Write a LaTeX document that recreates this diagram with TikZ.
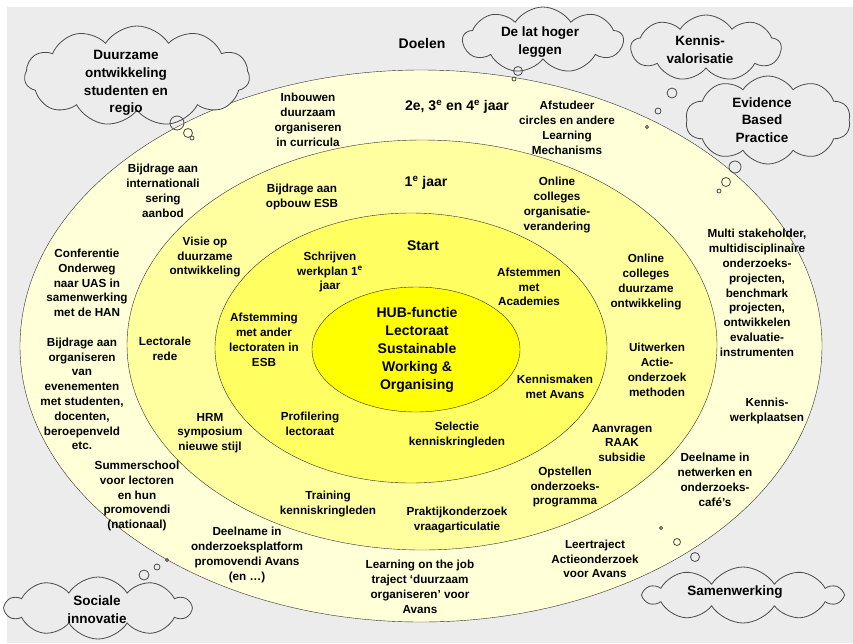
\documentclass[tikz,border=0pt]{standalone}
\usepackage{fontspec}
\setmainfont{Liberation Sans}
\usetikzlibrary{shapes.symbols}
\definecolor{achtergrond}{HTML}{ECECEC}
\definecolor{ring1}{HTML}{FFFFD8}
\definecolor{ring2}{HTML}{FFFFA0}
\definecolor{ring3}{HTML}{FFFF62}
\definecolor{kern}{HTML}{FFFF00}
\definecolor{lijn}{HTML}{303030}
\definecolor{wolklijn}{HTML}{4A4A4A}
\begin{document}
\begin{tikzpicture}[x=1pt,y=-1pt,
    ring/.style={font=\fontsize{11.7}{14.8}\selectfont\bfseries,align=center,inner sep=0pt},
    kop/.style={font=\fontsize{14}{17}\selectfont\bfseries,inner sep=0pt},
    hub/.style={font=\fontsize{14}{18}\selectfont\bfseries,align=center,inner sep=0pt},
    wolk/.style={cloud,cloud puffs=11,cloud puff arc=115,cloud ignores aspect,
      draw=wolklijn,fill=achtergrond,line width=0.8pt,inner sep=0pt},
    wolktekst/.style={font=\fontsize{13.5}{17.8}\selectfont\bfseries,align=center,inner sep=0pt},
    bel/.style={draw=wolklijn,line width=0.8pt}]
  \useasboundingbox (0,0) rectangle (853,643);
  \fill[white] (0,0) rectangle (853,643);
  \fill[achtergrond] (7,7) rectangle (853,643);
  \draw[lijn,fill=ring1] (421,346) ellipse [x radius=401, y radius=276];
  \draw[lijn,fill=ring2] (422,345) ellipse [x radius=295, y radius=205];
  \draw[lijn,fill=ring3] (411,348) ellipse [x radius=196, y radius=135];
  \draw[lijn,fill=kern] (416,349.5) ellipse [x radius=104, y radius=62.5];
  \draw (417,350) node[hub] (hubfunctie) {HUB-functie\\Lectoraat\\Sustainable\\Working \&\\Organising};
  \draw (422,43) node[kop] (doelen) {Doelen};
  \draw (457,107) node[kop] (jaar234) {2e, 3\textsuperscript{e} en 4\textsuperscript{e} jaar};
  \draw (426,183) node[kop] (jaar1) {1\textsuperscript{e} jaar};
  \draw (423,246) node[kop] (start) {Start};
  \draw (308,120) node[ring] (inbouwen) {Inbouwen\\duurzaam\\organiseren\\in curricula};
  \draw (567,128) node[ring] (afstudeer) {Afstudeer\\circles en andere\\Learning\\Mechanisms};
  \draw (163,191) node[ring] (internationaal) {Bijdrage aan\\internationali\\sering\\aanbod};
  \draw (87,283) node[ring] (conferentie) {Conferentie\\Onderweg\\naar UAS in\\samenwerking\\met de HAN};
  \draw (82,394) node[ring] (evenementen) {Bijdrage aan\\organiseren\\van\\evenementen\\met studenten,\\docenten,\\beroepenveld\\etc.};
  \draw (137,496) node[ring] (summerschool) {Summerschool\\voor lectoren\\en hun\\promovendi\\(nationaal)};
  \draw (247,555) node[ring] (platform) {Deelname in\\onderzoeksplatform\\promovendi Avans\\(en …)};
  \draw (420,587) node[ring] (learningjob) {Learning on the job\\traject ‘duurzaam\\organiseren’ voor\\Avans};
  \draw (595,559) node[ring] (leertraject) {Leertraject\\Actieonderzoek\\voor Avans};
  \draw (715,480) node[ring] (netwerken) {Deelname in\\netwerken en\\onderzoeks-\\café’s};
  \draw (767,411) node[ring] (werkplaatsen) {Kennis-\\werkplaatsen};
  \draw (757,293) node[ring] (stakeholder) {Multi stakeholder,\\multidisciplinaire\\onderzoeks-\\projecten,\\benchmark\\projecten,\\ontwikkelen\\evaluatie-\\instrumenten};
  \draw (302,197) node[ring] (opbouw) {Bijdrage aan\\opbouw ESB};
  \draw (557,205) node[ring] (orgverandering) {Online\\colleges\\organisatie-\\verandering};
  \draw (205,257) node[ring] (visie) {Visie op\\duurzame\\ontwikkeling};
  \draw (646,282) node[ring] (collegesdo) {Online\\colleges\\duurzame\\ontwikkeling};
  \draw (165,349) node[ring] (rede) {Lectorale\\rede};
  \draw (657,370) node[ring] (uitwerken) {Uitwerken\\Actie-\\onderzoek\\methoden};
  \draw (210,433) node[ring] (hrm) {HRM\\symposium\\nieuwe stijl};
  \draw (622,443) node[ring] (raak) {Aanvragen\\RAAK\\subsidie};
  \draw (328,504) node[ring] (training) {Training\\kenniskringleden};
  \draw (565,487) node[ring] (opstellen) {Opstellen\\onderzoeks-\\programma};
  \draw (457,520) node[ring] (praktijk) {Praktijkonderzoek\\vraagarticulatie};
  \draw (330,272) node[ring] (werkplan) {Schrijven\\werkplan 1\textsuperscript{e}\\jaar};
  \draw (529,287) node[ring] (academies) {Afstemmen\\met\\Academies};
  \draw (264,340) node[ring] (lectoraten) {Afstemming\\met ander\\lectoraten in\\ESB};
  \draw (555,387) node[ring] (kennismaken) {Kennismaken\\met Avans};
  \draw (310,424) node[ring] (profilering) {Profilering\\lectoraat};
  \draw (457,435) node[ring] (selectie) {Selectie\\kenniskringleden};
  \node[wolk,minimum width=225,minimum height=100] (wduurzaam) at (137,76) {};
  \node[wolk,cloud puffs=9,minimum width=160,minimum height=66] (wlat) at (543,40) {};
  \node[wolk,cloud puffs=9,minimum width=150,minimum height=66] (wvalorisatie) at (706,48) {};
  \node[wolk,cloud puffs=10,minimum width=165,minimum height=88] (wevidence) at (768,120) {};
  \node[wolk,cloud puffs=10,minimum width=185,minimum height=62] (wsociaal) at (98,608) {};
  \node[wolk,cloud puffs=10,minimum width=197,minimum height=56] (wsamen) at (743,595) {};
  \draw (126,83) node[wolktekst] (tduurzaam) {Duurzame\\ontwikkeling\\studenten en\\regio};
  \draw (540,42) node[wolktekst] (tlat) {De lat hoger\\leggen};
  \draw (700,50) node[wolktekst] (tvalorisatie) {Kennis-\\valorisatie};
  \draw (762,120) node[wolktekst] (tevidence) {Evidence\\Based\\Practice};
  \draw (97,610) node[wolktekst] (tsociaal) {Sociale\\innovatie};
  \draw (735,592) node[wolktekst] (tsamen) {Samenwerking};
  \draw[bel] (177,123) circle [radius=7];
  \draw[bel] (188,133) circle [radius=4.5];
  \draw[bel] (192,138) circle [radius=2];
  \draw[bel] (518,71) circle [radius=4.5];
  \draw[bel] (514,79) circle [radius=2];
  \draw[bel] (672,93) circle [radius=5];
  \draw[bel] (658,111) circle [radius=3];
  \draw[bel] (647,127) circle [radius=1.5];
  \draw[bel] (735,167) circle [radius=6];
  \draw[bel] (726,182) circle [radius=4.5];
  \draw[bel] (719,191) circle [radius=2];
  \draw[bel] (144,575) circle [radius=5];
  \draw[bel] (157,567) circle [radius=3];
  \draw[bel] (167,560) circle [radius=1.5];
  \draw[bel] (695,557) circle [radius=4.5];
  \draw[bel] (677,542) circle [radius=3.5];
  \draw[bel] (661,528) circle [radius=1.5];
\end{tikzpicture}
\end{document}
